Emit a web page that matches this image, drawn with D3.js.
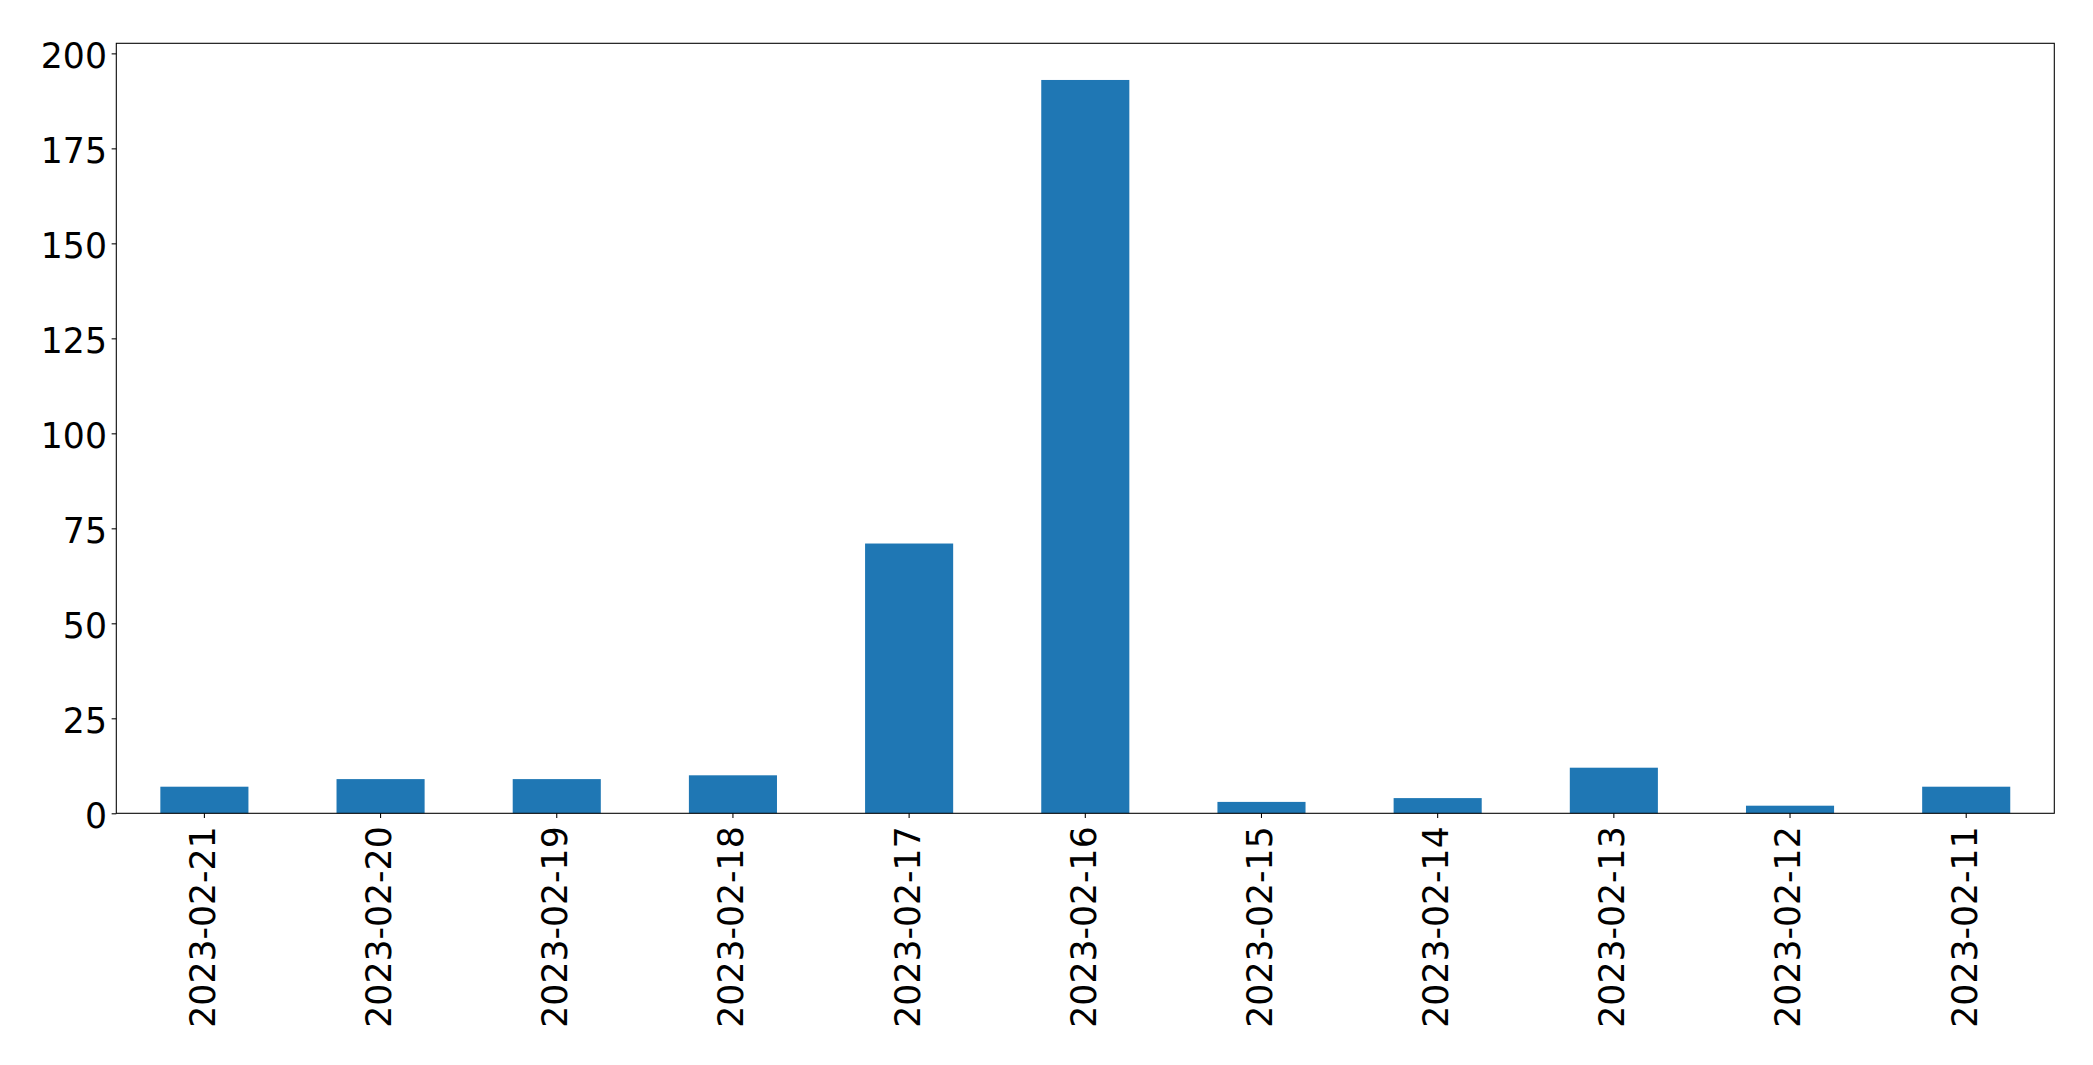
<!DOCTYPE html>
<html><head><meta charset="utf-8">
<script src="https://cdn.jsdelivr.net/npm/d3@7"></script>
<style>html,body{margin:0;padding:0;background:#fff;} svg text{font-family:"DejaVu Sans";}</style>
</head><body>
<script>
const categories = ["2023-02-21","2023-02-20","2023-02-19","2023-02-18","2023-02-17","2023-02-16","2023-02-15","2023-02-14","2023-02-13","2023-02-12","2023-02-11"];
const values = [7, 9, 9, 10, 71, 193, 3, 4, 12, 2, 7];
const yTicks = [0, 25, 50, 75, 100, 125, 150, 175, 200];

const W = 2093, H = 1065;
const m = {left: 116.3, right: 2054.3, top: 43.3, bottom: 813.3};
const svg = d3.select("body").append("svg").attr("width", W).attr("height", H)
  .style("display","block");

const x = d3.scaleBand().domain(categories).range([m.left, m.right]).paddingInner(0.5).paddingOuter(0.25);
const y = d3.scaleLinear().domain([0, d3.max(values) * 1.05]).range([m.bottom, m.top]);

svg.append("g").selectAll("rect").data(values).join("rect")
  .attr("x", (d, i) => x(categories[i]))
  .attr("width", x.bandwidth())
  .attr("y", d => y(d))
  .attr("height", d => y(0) - y(d))
  .attr("fill", "#1f77b4");

const fs = 34.67;
const ya = svg.append("g").attr("transform", `translate(${m.left},0)`)
  .call(d3.axisLeft(y).tickValues(yTicks).tickSize(4.67).tickPadding(4.67).tickFormat(d3.format("d")));
ya.select(".domain").remove();
ya.selectAll("line").attr("stroke", "#000").attr("stroke-width", 1.07);
ya.selectAll("text").style("font-size", fs + "px").attr("fill", "#000").attr("dy", "0.4em");

const xa = svg.append("g").attr("transform", `translate(0,${m.bottom})`)
  .call(d3.axisBottom(x).tickSize(4.67).tickPadding(4.67));
xa.select(".domain").remove();
xa.selectAll("line").attr("stroke", "#000").attr("stroke-width", 1.07);
xa.selectAll("text").style("font-size", fs + "px").attr("fill", "#000")
  .attr("text-anchor", "end")
  .attr("transform", "translate(0,13) rotate(-90)")
  .attr("x", 0).attr("y", 0).attr("dy", "0.3em");

svg.append("rect").attr("x", m.left).attr("y", m.top)
  .attr("width", m.right - m.left).attr("height", m.bottom - m.top)
  .attr("fill", "none").attr("stroke", "#000").attr("stroke-width", 1.07);
</script>
</body></html>
